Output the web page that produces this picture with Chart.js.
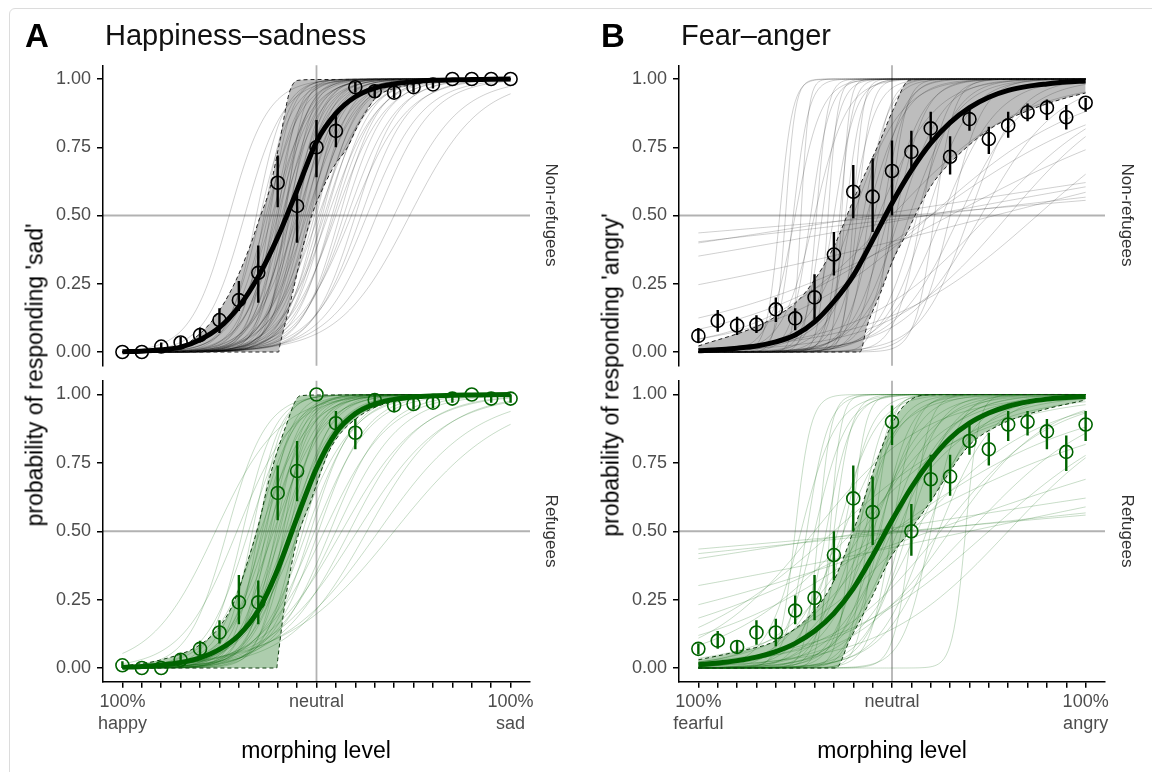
<!DOCTYPE html>
<html>
<head>
<meta charset="utf-8">
<script src="https://cdn.jsdelivr.net/npm/chart.js@4.4.0/dist/chart.umd.min.js"></script>
<style>
  body { margin: 0; width: 1152px; height: 772px; position: relative; overflow: hidden; background: #fff;
         font-family: "Liberation Sans", Arial, sans-serif; }
  canvas { position: absolute; }
  .t { position: absolute; white-space: nowrap; line-height: 1; }
  .rot { transform: translate(-50%, -50%) rotate(-90deg); }
  .strip { transform: translate(-50%, -50%) rotate(90deg); font-size: 17px; color: #333; }
  #frame { position: absolute; left: 9px; top: 8px; width: 1160px; height: 780px; border: 1px solid #dcdcdc; border-radius: 6px; }
</style>
</head>
<body>
<div id="frame"></div>
<canvas id="aTop" width="530" height="350" style="left:20px;top:35px"></canvas>
<canvas id="aBot" width="530" height="410" style="left:20px;top:350px"></canvas>
<canvas id="bTop" width="529" height="350" style="left:596px;top:35px"></canvas>
<canvas id="bBot" width="529" height="410" style="left:596px;top:350px"></canvas>

<div class="t" style="left:25px;top:19px;font-size:33px;font-weight:bold;">A</div>
<div class="t" style="left:105px;top:21px;font-size:29px;color:#111;">Happiness–sadness</div>
<div class="t" style="left:601px;top:19px;font-size:33px;font-weight:bold;">B</div>
<div class="t" style="left:681px;top:21px;font-size:29px;color:#111;">Fear–anger</div>

<div class="t rot" style="left:35px;top:375px;font-size:23px;">probability of responding 'sad'</div>
<div class="t rot" style="left:611px;top:375px;font-size:23px;">probability of responding 'angry'</div>
<div class="t" style="left:316px;top:739px;font-size:23px;transform:translateX(-50%);">morphing level</div>
<div class="t" style="left:892px;top:739px;font-size:23px;transform:translateX(-50%);">morphing level</div>

<div class="t strip" style="left:551px;top:215px;">Non-refugees</div>
<div class="t strip" style="left:551px;top:531px;">Refugees</div>
<div class="t strip" style="left:1127px;top:215px;">Non-refugees</div>
<div class="t strip" style="left:1127px;top:531px;">Refugees</div>

<script>
// morphing levels: 0 = 100% first emotion, 10 = neutral, 20 = 100% second emotion
const levels = [0, 1, 2, 3, 4, 5, 6, 7, 8, 9, 10, 11, 12, 13, 14, 15, 16, 17, 18, 19, 20];
const yTicks = [0, 0.25, 0.5, 0.75, 1];
const xTickLevels = [0, 10, 20];
const aTickLabels = [['100%', 'happy'], ['neutral'], ['100%', 'sad']];
const bTickLabels = [['100%', 'fearful'], ['neutral'], ['100%', 'angry']];

// ---- A, non-refugees ----
const aTopProp = [0.00, 0.00, 0.02, 0.035, 0.062, 0.117, 0.19, 0.29, 0.62, 0.535, 0.75, 0.81, 0.97, 0.955, 0.95, 0.97, 0.98, 1.00, 1.00, 1.00, 1.00];
const aTopLow  = [0.00, 0.00, 0.005, 0.015, 0.035, 0.07, 0.15, 0.18, 0.53, 0.40, 0.64, 0.75, 0.95, 0.93, 0.93, 0.95, 0.965, 1.00, 1.00, 1.00, 1.00];
const aTopHigh = [0.00, 0.00, 0.035, 0.055, 0.09, 0.16, 0.26, 0.39, 0.72, 0.585, 0.85, 0.87, 0.99, 0.98, 0.975, 0.99, 0.995, 1.00, 1.00, 1.00, 1.00];
const aTopFit  = [0.001, 0.003, 0.008, 0.018, 0.045, 0.09, 0.166, 0.276, 0.42, 0.593, 0.77, 0.874, 0.935, 0.967, 0.982, 0.99, 0.995, 0.997, 0.998, 0.999, 1.0];
const aTopBandHi = [[0, 0], [2, 0.005], [2.95, 0.018], [3.6, 0.044], [4.65, 0.117], [5.7, 0.24], [6.56, 0.385], [7.07, 0.49], [7.6, 0.6], [8.1, 0.77], [8.6, 0.95], [9.04, 0.995], [10, 0.998], [20, 1]];
const aTopBandLo = [[0, 0], [8.05, 0], [8.1, 0.02], [8.3, 0.08], [8.6, 0.165], [9.0, 0.29], [9.3, 0.385], [9.8, 0.51], [10.2, 0.58], [10.9, 0.68], [11.6, 0.75], [12.1, 0.825], [12.6, 0.886], [13.1, 0.935], [14, 0.965], [15, 0.98], [16, 0.99], [18, 0.997], [20, 1]];
const aTopCurves = [[5.5,1.0],[6.3,1.0],[6.9,1.4],[7.1,1.2],[7.3,1.6],[7.4,1.1],[7.5,1.3],[7.6,1.8],[7.7,1.0],[7.8,1.5],[7.9,1.2],[8.0,1.9],[8.0,1.1],[8.1,1.4],[8.2,1.0],[8.3,1.6],[8.3,1.2],[8.4,2.2],[8.5,1.3],[8.6,1.1],[8.6,1.7],[8.7,1.0],[8.8,1.4],[8.9,1.2],[9.0,0.9],[9.0,1.5],[9.1,1.1],[9.2,1.3],[9.3,1.0],[9.4,1.2],[9.5,0.9],[9.6,1.1],[9.7,1.3],[9.8,0.9],[9.9,1.0],[10.0,1.2],[10.1,0.8],[10.2,1.0],[10.3,1.1],[10.4,0.9],[10.5,1.0],[10.6,0.8],[10.8,1.0],[10.9,0.9],[11.0,0.8],[11.2,1.0],[11.4,0.9],[11.6,0.8],[11.8,0.7],[12.0,0.9],[12.3,0.8],[12.6,0.7],[13.1,0.7],[14.0,0.6],[14.8,0.55]];

// ---- A, refugees ----
const aBotProp = [0.01, 0.00, 0.00, 0.03, 0.07, 0.13, 0.24, 0.24, 0.64, 0.72, 1.00, 0.895, 0.86, 0.98, 0.96, 0.965, 0.97, 0.985, 1.00, 0.985, 0.985];
const aBotLow  = [0.00, 0.00, 0.00, 0.015, 0.045, 0.09, 0.16, 0.16, 0.54, 0.61, 1.00, 0.85, 0.80, 0.96, 0.94, 0.945, 0.95, 0.97, 1.00, 0.97, 0.97];
const aBotHigh = [0.025, 0.00, 0.00, 0.05, 0.10, 0.175, 0.34, 0.32, 0.74, 0.83, 1.00, 0.94, 0.91, 1.00, 0.98, 0.985, 0.99, 1.00, 1.00, 1.00, 1.00];
const aBotFit  = [0.003, 0.006, 0.011, 0.02, 0.037, 0.068, 0.12, 0.21, 0.36, 0.55, 0.73, 0.86, 0.93, 0.965, 0.982, 0.991, 0.995, 0.997, 0.998, 0.999, 1.0];
const aBotBandHi = [[0, 0.007], [2, 0.03], [4, 0.085], [5, 0.15], [5.8, 0.25], [6.5, 0.4], [7.0, 0.52], [7.6, 0.7], [8.4, 0.88], [9.15, 0.995], [10, 0.998], [20, 1]];
const aBotBandLo = [[0, 0], [7.95, 0], [8.0, 0.03], [8.4, 0.25], [9.0, 0.47], [9.7, 0.61], [10.7, 0.8], [12.2, 0.92], [14.3, 0.98], [17, 0.997], [20, 1]];
const aBotCurves = [[4.8,0.6],[5.4,1.0],[5.9,0.7],[6.2,1.2],[6.5,0.9],[6.7,1.4],[6.9,1.0],[7.0,1.6],[7.1,0.8],[7.2,1.2],[7.3,1.0],[7.4,1.5],[7.5,0.9],[7.6,1.3],[7.7,1.1],[7.8,0.8],[7.9,1.4],[8.0,1.0],[8.1,1.2],[8.2,0.9],[8.3,1.6],[8.4,1.1],[8.5,0.8],[8.6,1.3],[8.7,1.0],[8.8,0.9],[9.0,1.2],[9.1,0.7],[9.3,1.0],[9.5,0.8],[9.7,0.9],[9.9,0.7],[10.1,0.8],[10.4,0.6],[10.7,0.7],[11.0,0.6],[11.3,0.5],[11.7,0.55],[12.1,0.45],[12.6,0.5],[13.2,0.4],[14.0,0.35]];

// ---- B, non-refugees ----
const bTopProp = [0.059, 0.114, 0.097, 0.101, 0.156, 0.123, 0.20, 0.357, 0.587, 0.569, 0.663, 0.733, 0.819, 0.715, 0.853, 0.78, 0.83, 0.878, 0.895, 0.86, 0.913];
const bTopLow  = [0.033, 0.074, 0.062, 0.07, 0.11, 0.08, 0.115, 0.28, 0.49, 0.44, 0.50, 0.66, 0.76, 0.65, 0.81, 0.725, 0.785, 0.845, 0.85, 0.815, 0.88];
const bTopHigh = [0.088, 0.154, 0.129, 0.135, 0.20, 0.16, 0.285, 0.44, 0.685, 0.71, 0.775, 0.81, 0.88, 0.79, 0.90, 0.825, 0.88, 0.91, 0.925, 0.905, 0.93];
const bTopFit  = [0.005, 0.008, 0.014, 0.022, 0.037, 0.062, 0.11, 0.185, 0.28, 0.41, 0.545, 0.665, 0.765, 0.84, 0.895, 0.933, 0.958, 0.973, 0.982, 0.989, 0.993];
const bTopBandHi = [[0, 0.022], [3, 0.093], [4, 0.13], [5.1, 0.185], [6, 0.264], [7, 0.386], [8, 0.556], [8.7, 0.667], [9.4, 0.776], [10.05, 0.886], [10.9, 0.996], [12, 0.999], [20, 1]];
const bTopBandLo = [[0, 0], [8.35, 0], [8.7, 0.093], [9.4, 0.215], [10.05, 0.337], [10.75, 0.434], [11.4, 0.53], [12.1, 0.617], [12.8, 0.678], [13.7, 0.74], [14.5, 0.788], [15.4, 0.832], [17.1, 0.886], [18.8, 0.927], [20, 0.949]];
const bTopCurves = [[4.2,3],[4.5,4],[4.9,2.5],[5.3,5],[5.8,2],[6.1,3.5],[6.4,2.2],[6.7,4],[7.0,1.8],[7.3,3],[7.6,2.4],[7.9,1.6],[8.2,2.8],[8.5,1.5],[8.8,2.0],[9.1,1.4],[9.5,1.7],[9.9,2.5],[10.2,1.3],[5.0,1.5],[6.0,1.2],[7.4,5],[8.0,4],
  [8.0,0.8],[8.7,1.0],[9.3,0.7],[9.8,1.1],[10.4,0.9],[10.9,0.8],[11.3,1.0],
  [11.5,1.5],[11.8,0.9],[12.2,2.0],[12.6,0.7],[13.0,1.2],[13.5,0.6],[14.0,0.8],[14.6,0.5],
  [10,0.3],[12,0.25],[15,0.3],[16,0.33],[17.5,0.25],[13,0.15],[12,0.2],
  [10.7,0.024],[11.8,0.033],[9.06,0.045],[11.8,0.052],[15.3,0.073]];

// ---- B, refugees ----
const bBotProp = [0.07, 0.10, 0.077, 0.13, 0.13, 0.21, 0.256, 0.413, 0.62, 0.57, 0.90, 0.50, 0.69, 0.70, 0.83, 0.80, 0.89, 0.90, 0.865, 0.79, 0.89];
const bBotLow  = [0.05, 0.07, 0.055, 0.085, 0.08, 0.16, 0.175, 0.32, 0.50, 0.45, 0.815, 0.41, 0.61, 0.63, 0.78, 0.74, 0.83, 0.85, 0.80, 0.72, 0.83];
const bBotHigh = [0.09, 0.135, 0.10, 0.175, 0.18, 0.265, 0.34, 0.50, 0.74, 0.70, 0.96, 0.60, 0.78, 0.78, 0.89, 0.86, 0.94, 0.94, 0.91, 0.85, 0.94];
const bBotFit  = [0.012, 0.018, 0.027, 0.04, 0.06, 0.09, 0.135, 0.20, 0.29, 0.41, 0.54, 0.66, 0.76, 0.84, 0.895, 0.932, 0.957, 0.973, 0.983, 0.989, 0.993];
const bBotBandHi = [[0, 0.03], [2, 0.06], [4, 0.10], [6, 0.21], [7, 0.32], [8, 0.5], [8.9, 0.69], [9.6, 0.83], [10.4, 0.94], [11.2, 0.99], [12, 0.999], [20, 1]];
const bBotBandLo = [[0, 0], [7.1, 0], [7.8, 0.1], [8.9, 0.25], [9.9, 0.4], [10.9, 0.5], [12, 0.61], [13, 0.72], [14, 0.815], [15.6, 0.89], [17.6, 0.94], [20, 0.98]];
const bBotCurves = [[5.0,2.5],[5.6,1.8],[6.2,3.0],[6.6,1.5],[7.0,2.2],[7.5,1.4],[7.9,2.8],[8.3,1.6],[8.8,2.0],[9.4,1.3],[10.0,1.7],[13.8,3.0],[6.0,1.2],[11.0,2.2],
  [5.3,1.1],[6.8,3.5],[7.2,1.0],[8.6,1.2],[9.1,2.4],[10.5,1.1],[12.0,1.4],
  [7.5,0.7],[8.2,0.9],[8.8,0.6],[9.3,1.0],[9.8,0.8],[10.3,0.7],[10.8,0.9],[11.3,0.6],[11.8,0.8],[12.4,0.7],[9.0,0.75],[10.0,0.65],
  [6,0.35],[8,0.3],[9.5,0.4],[11,0.3],[12.5,0.35],[14,0.3],[15,0.25],[16,0.3],[7,0.25],[10,0.2],[8.5,0.45],[13,0.4],
  [10.5,0.025],[11,0.03],[9,0.045],[14,0.06],[12,0.1],[10,0.15]];

Chart.defaults.font.family = '"Liberation Sans", Arial, sans-serif';
Chart.defaults.animation = false;

const FONT_TICK = { size: 18, lineHeight: 1.2 };

// participant curve from (midpoint, slope)
function curvePoints(m, k) {
  const pts = [];
  for (let i = 0; i <= 200; i++) {
    const x = i / 10;
    pts.push({ x: x, y: 1 / (1 + Math.exp(-k * (x - m))) });
  }
  return pts;
}

const refLines = {
  id: 'refLines',
  beforeDatasetsDraw(chart) {
    const { ctx, chartArea: a, scales: { x, y } } = chart;
    const px = x.getPixelForValue(10), py = y.getPixelForValue(0.5);
    ctx.save();
    ctx.strokeStyle = 'rgba(0,0,0,0.3)';
    ctx.lineWidth = 1.8;
    ctx.beginPath();
    ctx.moveTo(px, a.top); ctx.lineTo(px, a.bottom);
    ctx.moveTo(a.left, py); ctx.lineTo(a.right, py);
    ctx.stroke();
    ctx.restore();
  }
};

const errBars = {
  id: 'errBars',
  afterDatasetsDraw(chart, args, opts) {
    const { ctx, scales: { x, y } } = chart;
    ctx.save();
    ctx.strokeStyle = opts.color;
    ctx.lineWidth = 2.4;
    ctx.beginPath();
    opts.low.forEach((lo, i) => {
      const px = x.getPixelForValue(levels[i]);
      ctx.moveTo(px, y.getPixelForValue(lo));
      ctx.lineTo(px, y.getPixelForValue(opts.high[i]));
    });
    ctx.stroke();
    ctx.restore();
  }
};

function makePanel(id, p) {
  const datasets = [];
  datasets.push({
    data: levels.map((x, i) => ({ x: x, y: p.prop[i] })),
    showLine: false, pointRadius: 6.5, pointBorderWidth: 1.6,
    pointBorderColor: p.color, pointBackgroundColor: 'rgba(0,0,0,0)', order: 0
  });
  datasets.push({
    data: levels.map((x, i) => ({ x: x, y: p.fit[i] })),
    borderColor: p.color, borderWidth: 5, pointRadius: 0,
    cubicInterpolationMode: 'monotone', fill: false, order: 1
  });
  datasets.push({
    data: p.bandHi.map(d => ({ x: d[0], y: d[1] })),
    borderColor: p.dash, borderWidth: 1, borderDash: [4, 3], pointRadius: 0,
    cubicInterpolationMode: 'monotone', fill: '+1', backgroundColor: p.band, order: 2.5
  });
  datasets.push({
    data: p.bandLo.map(d => ({ x: d[0], y: d[1] })),
    borderColor: p.dash, borderWidth: 1, borderDash: [4, 3], pointRadius: 0,
    cubicInterpolationMode: 'monotone', fill: false, order: 2
  });
  p.curves.forEach(c => {
    datasets.push({
      data: curvePoints(c[0], c[1]), borderColor: p.thin, borderWidth: 1,
      pointRadius: 0, fill: false, order: 3
    });
  });

  const xAxis = {
    type: 'linear', min: -1, max: 21, display: p.showX,
    afterBuildTicks: s => { s.ticks = levels.map(v => ({ value: v })); },
    afterFit: s => { s.height = p.showX ? 60 : 0; },
    ticks: {
      autoSkip: false, maxRotation: 0, padding: 4, color: '#4d4d4d', font: FONT_TICK,
      callback: v => { const k = xTickLevels.indexOf(v); return k < 0 ? '' : p.tickLabels[k]; }
    },
    grid: { display: true, drawOnChartArea: false, drawTicks: true, tickLength: 6, color: '#000', lineWidth: 1.5 },
    border: { display: true, color: '#000', width: 1.5 }
  };

  new Chart(document.getElementById(id), {
    type: 'line',
    data: { datasets: datasets },
    options: {
      responsive: false, devicePixelRatio: 1, events: [],
      layout: { padding: p.pad },
      scales: {
        x: xAxis,
        y: {
          type: 'linear', min: -0.05, max: 1.05,
          afterBuildTicks: s => { s.ticks = yTicks.map(v => ({ value: v })); },
          afterFit: s => { s.width = 83; },
          ticks: { padding: 6, color: '#4d4d4d', font: FONT_TICK, callback: v => v.toFixed(2) },
          grid: { display: true, drawOnChartArea: false, drawTicks: true, tickLength: 6, color: '#000', lineWidth: 1.5 },
          border: { display: true, color: '#000', width: 1.5 }
        }
      },
      plugins: {
        legend: { display: false },
        tooltip: { enabled: false },
        errBars: { low: p.low, high: p.high, color: p.color }
      }
    },
    plugins: [refLines, errBars]
  });
}

const GRAY = { color: '#000', dash: '#222', band: 'rgba(0,0,0,0.26)', thin: 'rgba(0,0,0,0.19)' };
const GREEN = { color: '#006400', dash: '#0d3d0d', band: 'rgba(0,100,0,0.32)', thin: 'rgba(0,100,0,0.22)' };
const padTop = { top: 30.35, right: 20, bottom: 19.35, left: 0 };
const padBot = { top: 30.8, right: 20, bottom: 18.3, left: 0 };

makePanel('aTop', Object.assign({}, GRAY, { prop: aTopProp, low: aTopLow, high: aTopHigh, fit: aTopFit,
  bandHi: aTopBandHi, bandLo: aTopBandLo, curves: aTopCurves, showX: false, tickLabels: aTickLabels, pad: padTop }));
makePanel('aBot', Object.assign({}, GREEN, { prop: aBotProp, low: aBotLow, high: aBotHigh, fit: aBotFit,
  bandHi: aBotBandHi, bandLo: aBotBandLo, curves: aBotCurves, showX: true, tickLabels: aTickLabels, pad: padBot }));
makePanel('bTop', Object.assign({}, GRAY, { prop: bTopProp, low: bTopLow, high: bTopHigh, fit: bTopFit,
  bandHi: bTopBandHi, bandLo: bTopBandLo, curves: bTopCurves, showX: false, tickLabels: bTickLabels, pad: padTop }));
makePanel('bBot', Object.assign({}, GREEN, { prop: bBotProp, low: bBotLow, high: bBotHigh, fit: bBotFit,
  bandHi: bBotBandHi, bandLo: bBotBandLo, curves: bBotCurves, showX: true, tickLabels: bTickLabels, pad: padBot }));
</script>
</body>
</html>
